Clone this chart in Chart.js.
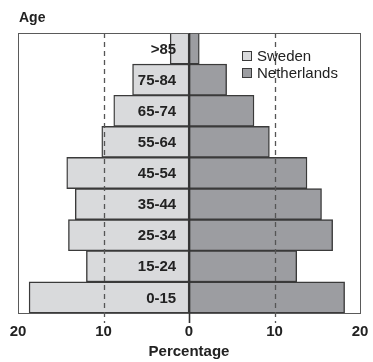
<!DOCTYPE html>
<html>
<head>
<meta charset="utf-8">
<script src="https://cdn.jsdelivr.net/npm/chart.js@4.4.1/dist/chart.umd.min.js"></script>
<style>
  html, body { margin: 0; padding: 0; background: #ffffff; }
  #wrap { width: 373px; height: 362px; position: relative; }
</style>
</head>
<body>
<div id="wrap"><canvas id="c" width="373" height="362"></canvas></div>
<script>
// Age groups, oldest at the top
const ageGroups = ['>85', '75-84', '65-74', '55-64', '45-54', '35-44', '25-34', '15-24', '0-15'];
// Share of population per age group (%)
const sweden      = [2.2, 6.6, 8.8, 10.2, 14.3, 13.3, 14.1, 12.0, 18.7];
const netherlands = [1.2, 4.4, 7.6, 9.4, 13.8, 15.5, 16.8, 12.6, 18.2];
const xTicks = [-20, -10, 0, 10, 20];
const refLines = [-10, 10];

const FONT = '"Liberation Sans", Arial, Helvetica, sans-serif';
const INK = '#222222';
const SWE_FILL = '#d9dadc';
const NED_FILL = '#9c9da1';
const EDGE = '#3a3a3a';

const overlay = {
  id: 'overlay',
  afterDatasetsDraw(chart) {
    const { ctx, chartArea: a, scales: { x, y } } = chart;
    ctx.save();
    // dashed reference lines
    ctx.strokeStyle = '#555';
    ctx.lineWidth = 1.3;
    ctx.setLineDash([5, 4]);
    refLines.forEach(v => {
      const px = Math.round(x.getPixelForValue(v)) + 0.5;
      ctx.beginPath();
      ctx.moveTo(px, a.top);
      ctx.lineTo(px, a.bottom + 10);
      ctx.stroke();
    });
    ctx.setLineDash([]);
    // frame
    ctx.strokeStyle = '#5a5a5a';
    ctx.lineWidth = 1;
    ctx.strokeRect(Math.round(a.left) + 0.5, Math.round(a.top) + 0.5,
                   Math.round(a.right - a.left), Math.round(a.bottom - a.top));
    // zero axis
    const z = Math.round(x.getPixelForValue(0)) + 0.5;
    ctx.strokeStyle = '#333';
    ctx.lineWidth = 1.6;
    ctx.beginPath();
    ctx.moveTo(z, a.top);
    ctx.lineTo(z, a.bottom + 10);
    ctx.stroke();
    // age group labels
    ctx.fillStyle = INK;
    ctx.font = 'bold 15px ' + FONT;
    ctx.textAlign = 'right';
    ctx.textBaseline = 'middle';
    const lx = x.getPixelForValue(-1.5);
    ageGroups.forEach((g, i) => {
      ctx.fillText(g, lx, y.getPixelForValue(i) + 1);
    });
    // legend
    const items = chart.data.datasets;
    ctx.font = '15px ' + FONT;
    ctx.textAlign = 'left';
    items.forEach((ds, i) => {
      const cy = 56 + i * 17;
      ctx.fillStyle = ds.backgroundColor;
      ctx.fillRect(242.5, cy - 4.5, 9, 9);
      ctx.strokeStyle = EDGE;
      ctx.lineWidth = 1;
      ctx.strokeRect(242.5, cy - 4.5, 9, 9);
      ctx.fillStyle = INK;
      ctx.fillText(ds.label, 257, cy + 1);
    });
    // axis captions
    ctx.font = 'bold 14px ' + FONT;
    ctx.fillText('Age', 19, 18);
    ctx.font = 'bold 15px ' + FONT;
    ctx.textAlign = 'center';
    ctx.fillText('Percentage', x.getPixelForValue(0), 352);
    ctx.restore();
  }
};

new Chart(document.getElementById('c'), {
  type: 'bar',
  data: {
    labels: ageGroups,
    datasets: [
      { label: 'Sweden', data: sweden.map(v => -v), backgroundColor: SWE_FILL,
        borderColor: EDGE, borderWidth: 1.4, borderSkipped: false },
      { label: 'Netherlands', data: netherlands, backgroundColor: NED_FILL,
        borderColor: EDGE, borderWidth: 1.4, borderSkipped: false }
    ]
  },
  options: {
    indexAxis: 'y',
    responsive: false,
    animation: false,
    devicePixelRatio: 1,
    layout: { padding: { left: 18, right: 13, top: 33, bottom: 21 } },
    datasets: { bar: { barPercentage: 1, categoryPercentage: 1 } },
    plugins: { legend: { display: false }, tooltip: { enabled: false }, title: { display: false } },
    scales: {
      y: { display: false, stacked: true },
      x: {
        stacked: true,
        min: -20, max: 20,
        afterBuildTicks: s => { s.ticks = xTicks.map(v => ({ value: v })); },
        afterFit: s => { s.height = 28; s.paddingLeft = 0; s.paddingRight = 0; },
        grid: { display: false, drawTicks: false },
        border: { display: false },
        ticks: {
          padding: 10,
          color: INK,
          font: { family: FONT, size: 15, weight: 'bold' },
          maxRotation: 0,
          callback: v => Math.abs(v)
        }
      }
    }
  },
  plugins: [overlay]
});
</script>
</body>
</html>
